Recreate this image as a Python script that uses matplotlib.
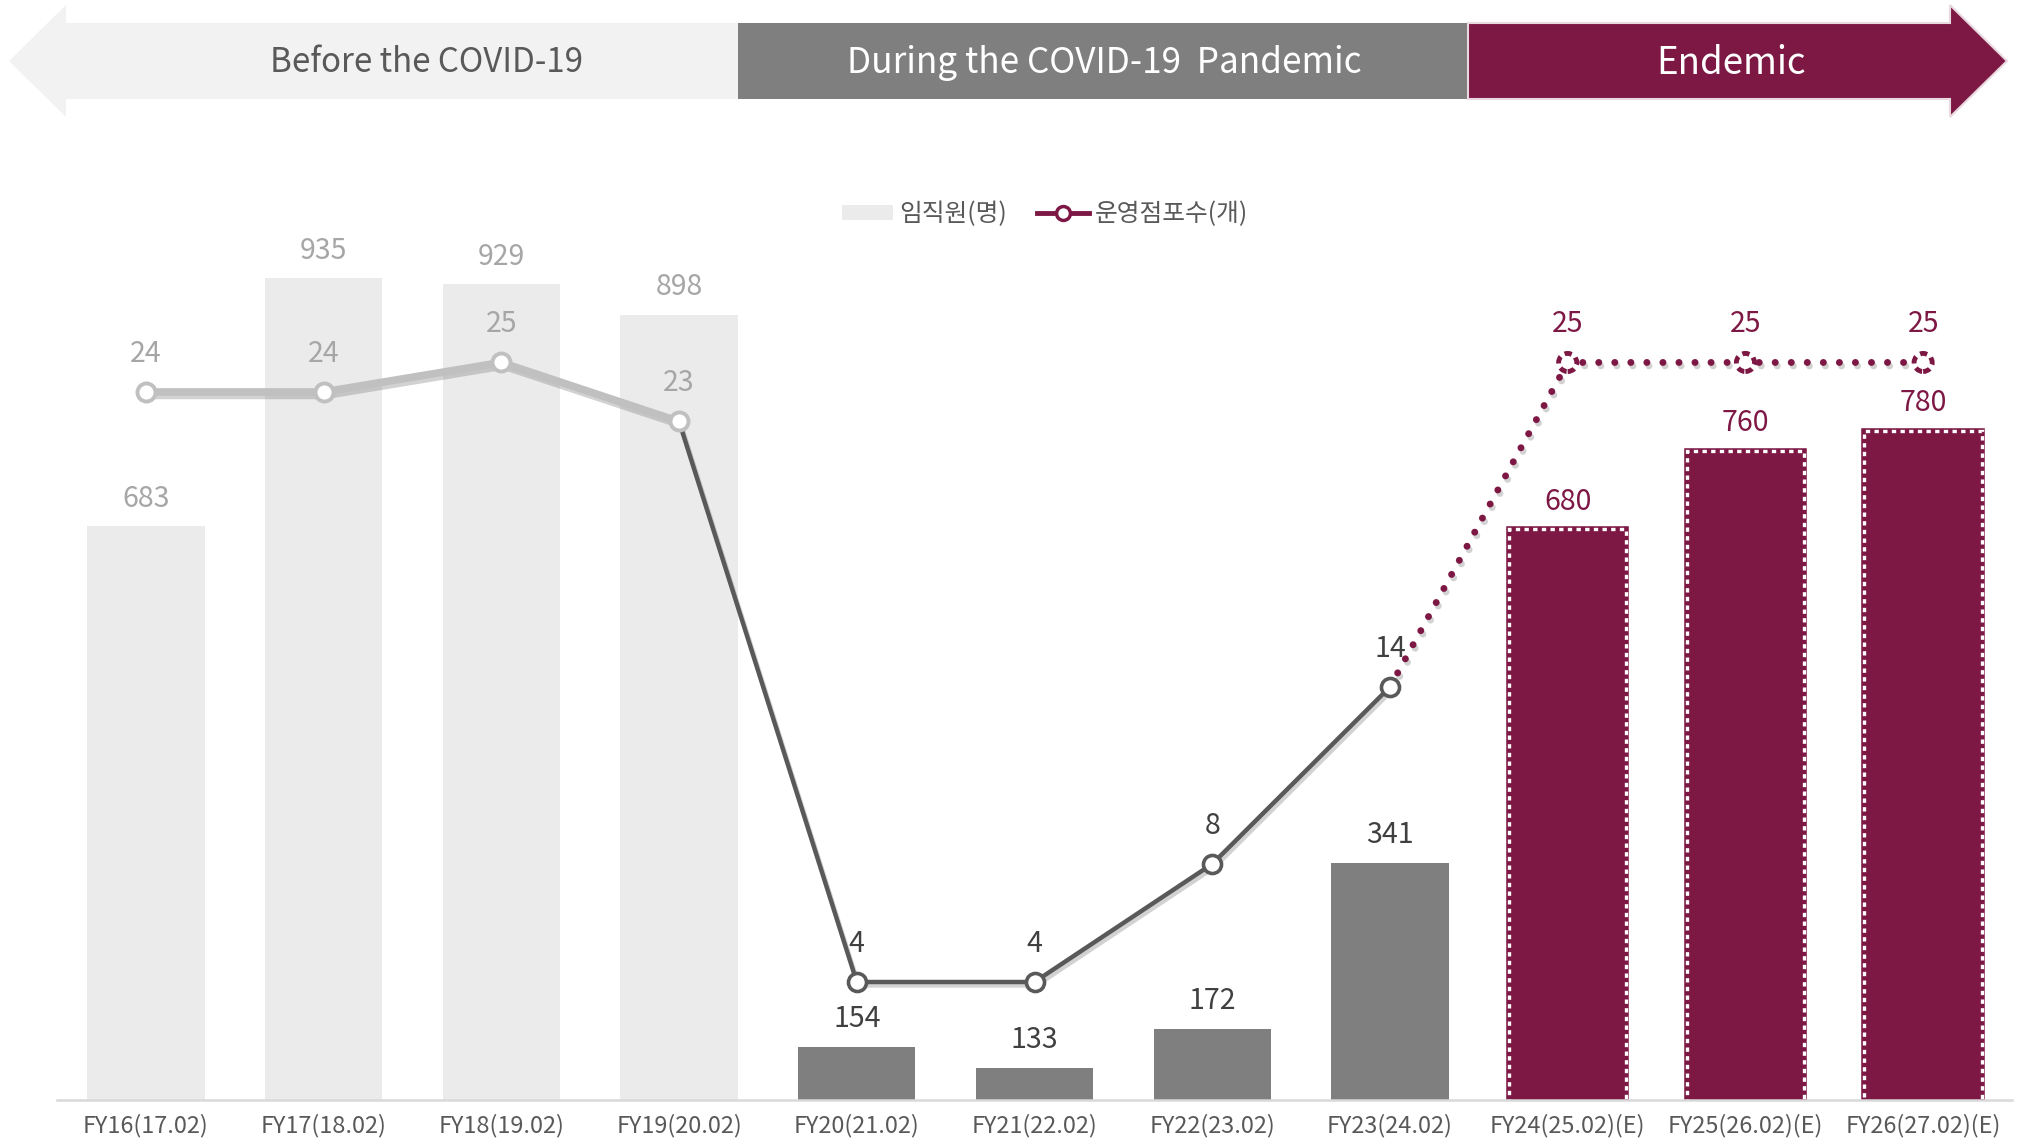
import matplotlib
matplotlib.use("Agg")
import matplotlib.pyplot as plt
import matplotlib.patheffects as pe
from matplotlib.patches import Polygon, Patch
from matplotlib.lines import Line2D
import numpy as np

plt.rcParams['font.family'] = ['Noto Sans CJK KR', 'DejaVu Sans']

# ---------------- data ----------------
categories = ['FY16(17.02)', 'FY17(18.02)', 'FY18(19.02)', 'FY19(20.02)', 'FY20(21.02)',
              'FY21(22.02)', 'FY22(23.02)', 'FY23(24.02)', 'FY24(25.02)(E)',
              'FY25(26.02)(E)', 'FY26(27.02)(E)']
employees = [683, 935, 929, 898, 154, 133, 172, 341, 680, 760, 780]
stores = [24, 24, 25, 23, 4, 4, 8, 14, 25, 25, 25]
phase_labels = ['Before the COVID-19', 'During the COVID-19  Pandemic', 'Endemic']
legend_labels = ['임직원(명)', '운영점포수(개)']

# phase index ranges
pre = list(range(0, 4))
mid = list(range(4, 8))
post = list(range(8, 11))

LIGHT = '#EBEBEB'
GREY = '#7F7F7F'
MAROON = '#7D1845'
LINE_LIGHT = '#C0C0C0'
LINE_DARK = '#595959'
TXT_LIGHT = '#A6A6A6'
TXT_DARK = '#404040'

W, H = 2022, 1141
fig = plt.figure(figsize=(W / 100, H / 100), dpi=100)

# ---------------- banner ----------------
bax = fig.add_axes([0, 0, 1, 1], zorder=0)
bax.set_xlim(0, W)
bax.set_ylim(H, 0)
bax.axis('off')
bax.add_patch(Polygon([(9, 61), (66, 5), (66, 23), (738, 23), (738, 99), (66, 99), (66, 117)],
                      closed=True, facecolor='#F2F2F2', edgecolor='none'))
bax.add_patch(Polygon([(738, 23), (1468, 23), (1468, 99), (738, 99)],
                      closed=True, facecolor=GREY, edgecolor='none'))
bax.add_patch(Polygon([(1468, 23), (1950, 23), (1950, 5), (2007, 61), (1950, 117), (1950, 99), (1468, 99)],
                      closed=True, facecolor=MAROON, edgecolor='#E8D8DF', linewidth=1.5))
bax.text(426, 63, phase_labels[0], ha='center', va='center', fontsize=23.8, color='#595959')
bax.text(1104, 63, phase_labels[1], ha='center', va='center', fontsize=25.3, color='white')
bax.text(1731, 63, phase_labels[2], ha='center', va='center', fontsize=26.4, color='white')

# ---------------- main chart ----------------
ax = fig.add_axes([57 / W, 41 / H, (2012 - 57) / W, (1100 - 130) / H], zorder=1)
ax.patch.set_alpha(0)
x = np.arange(len(categories))
bw = 0.66

ax.bar(x[pre], [employees[i] for i in pre], width=bw, color=LIGHT, zorder=1)
ax.bar(x[mid], [employees[i] for i in mid], width=bw, color=GREY, zorder=1)
ax.bar(x[post], [employees[i] for i in post], width=bw, color=MAROON,
       edgecolor=MAROON, linewidth=4, zorder=1)
ax.bar(x[post], [employees[i] for i in post], width=bw, facecolor='none',
       edgecolor='white', linewidth=2.4, linestyle=(0, (1.3, 1.3)), zorder=1.1)

ax.set_xlim(-0.5, len(categories) - 0.5)
ax.set_ylim(100, 1085.8)
for s in ['top', 'right', 'left']:
    ax.spines[s].set_visible(False)
ax.spines['bottom'].set_color('#D9D9D9')
ax.spines['bottom'].set_linewidth(1.8)
ax.set_yticks([])
ax.set_xticks(x)
ax.set_xticklabels(categories, fontsize=16.9, color='#595959')
ax.tick_params(axis='x', length=0, pad=10)

bar_txt_colors = [TXT_LIGHT] * 4 + [TXT_DARK] * 4 + [MAROON] * 3
for i, v in enumerate(employees):
    ax.annotate(f'{v}', (x[i], v), xytext=(0, 20), textcoords='offset points',
                ha='center', va='center', fontsize=20.5, color=bar_txt_colors[i])

# ---------------- line (secondary axis) ----------------
ax2 = ax.twinx()
ax2.set_ylim(0, 32.88)
ax2.axis('off')

shadow = [pe.SimpleLineShadow(offset=(1.5, -2.5), shadow_color='#808080', alpha=0.35), pe.Normal()]

seg1 = pre
seg2 = [3] + mid
seg3 = [7] + post
ax2.plot(x[seg1], [stores[i] for i in seg1], color=LINE_LIGHT, lw=5.5,
         solid_capstyle='round', path_effects=shadow, zorder=2)
ax2.plot(x[seg2], [stores[i] for i in seg2], color=LINE_DARK, lw=3.2,
         solid_capstyle='round', path_effects=shadow, zorder=2)
ax2.plot(x[seg3], [stores[i] for i in seg3], color=MAROON, lw=5,
         linestyle=(0, (0.01, 2.3)), dash_capstyle='round', path_effects=shadow, zorder=2)

ax2.plot(x[pre], [stores[i] for i in pre], linestyle='none', marker='o', ms=13,
         mfc='white', mec=LINE_LIGHT, mew=2.8, zorder=3)
ax2.plot(x[mid], [stores[i] for i in mid], linestyle='none', marker='o', ms=13,
         mfc='white', mec=LINE_DARK, mew=2.6, zorder=3)
ax2.scatter(x[post], [stores[i] for i in post], s=170, facecolors='white',
            edgecolors=MAROON, linewidths=3.5, linestyles=(0, (1.5, 1)), zorder=3)

line_txt_colors = [TXT_LIGHT] * 4 + [TXT_DARK] * 4 + [MAROON] * 3
for i, v in enumerate(stores):
    ax2.annotate(f'{v}', (x[i], v), xytext=(0, 27.5), textcoords='offset points',
                 ha='center', va='center', fontsize=20.5, color=line_txt_colors[i])

# ---------------- legend ----------------
handles = [Patch(facecolor=LIGHT, edgecolor='none'),
           Line2D([0], [0], color=MAROON, lw=3.5, marker='o', ms=10, mfc='white',
                  mec=MAROON, mew=2.5)]
fig.legend(handles, legend_labels, loc='center', bbox_to_anchor=(1045 / W, 1 - 214 / H),
           ncol=2, frameon=False, fontsize=17.8, handlelength=2.1, handleheight=0.55,
           handletextpad=0.25, columnspacing=1.2, labelcolor='#595959')

fig.savefig('out.png', dpi=100)
